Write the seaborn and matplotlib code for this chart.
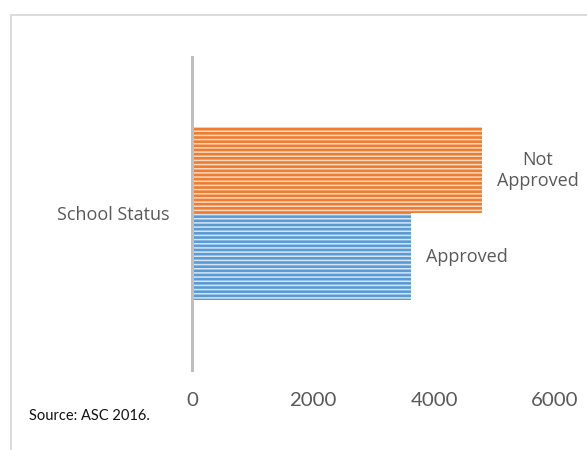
import matplotlib
matplotlib.use("Agg")
import matplotlib.pyplot as plt
import seaborn as sns
import pandas as pd
from matplotlib.lines import Line2D

# Data
categories = ["School Status"]
series_names = ["Not Approved", "Approved"]
approved = [3620]
not_approved = [4790]
xticks = [0, 2000, 4000, 6000]
colors = {"Not Approved": "#ED7D31", "Approved": "#5B9BD5"}
hatch_colors = {"Not Approved": "#FBD9C2", "Approved": "#D6E6F5"}

rows = []
for i, c in enumerate(categories):
    rows.append({"cat": c, "series": "Not Approved", "value": not_approved[i]})
    rows.append({"cat": c, "series": "Approved", "value": approved[i]})
df = pd.DataFrame(rows)

sns.set_theme(style="white")
plt.rcParams["font.family"] = ["Open Sans", "DejaVu Sans"]
plt.rcParams["hatch.linewidth"] = 1.1

fig = plt.figure(figsize=(5.87, 4.5), dpi=100)
ax = fig.add_axes([192 / 587, 80 / 450, 363 / 587, 313 / 450])

sns.barplot(data=df, y="cat", x="value", hue="series", hue_order=series_names,
            palette=colors, orient="h", width=0.55, ax=ax, legend=False,
            linewidth=0, saturation=1)

for cont, name in zip(ax.containers, series_names):
    for p in cont:
        p.set_hatch("----")
        p.set_edgecolor(hatch_colors[name])
        p.set_linewidth(0)
    lab = "Not\nApproved" if name == "Not Approved" else name
    ax.bar_label(cont, labels=[lab], padding=11, fontsize=13, color="#595959",
                 family=["Open Sans", "DejaVu Sans"], multialignment="center")

ax.set_xlim(0, 6000)
ax.set_ylim(0.5, -0.5)
ax.set_xticks(xticks)
ax.set_xticklabels([str(t) for t in xticks], fontsize=14.7, color="#595959",
                   family=["Lato", "DejaVu Sans"])
ax.tick_params(axis="x", length=0, pad=16)
ax.tick_params(axis="y", length=0, pad=16, labelsize=13, labelcolor="#595959")
ax.set_xlabel("")
ax.set_ylabel("")
for s in ["top", "right", "bottom"]:
    ax.spines[s].set_visible(False)
ax.spines["left"].set_color("#BFBFBF")
ax.spines["left"].set_linewidth(2.2)
ax.grid(False)

# outer frame: only top and left edges are inside the picture
ytop = 1 - 14.5 / 450
xleft = 10.5 / 587
fig.add_artist(Line2D([xleft, 1.0], [ytop, ytop], transform=fig.transFigure,
                      color="#D9D9D9", linewidth=1.3))
fig.add_artist(Line2D([xleft, xleft], [0.0, ytop], transform=fig.transFigure,
                      color="#D9D9D9", linewidth=1.3))

fig.text(29 / 587, 1 - 416 / 450, "Source: ASC 2016.", fontsize=10.5,
         color="#111111", va="center", ha="left", family=["Lato", "DejaVu Sans"])

fig.savefig("out.png", dpi=100)
